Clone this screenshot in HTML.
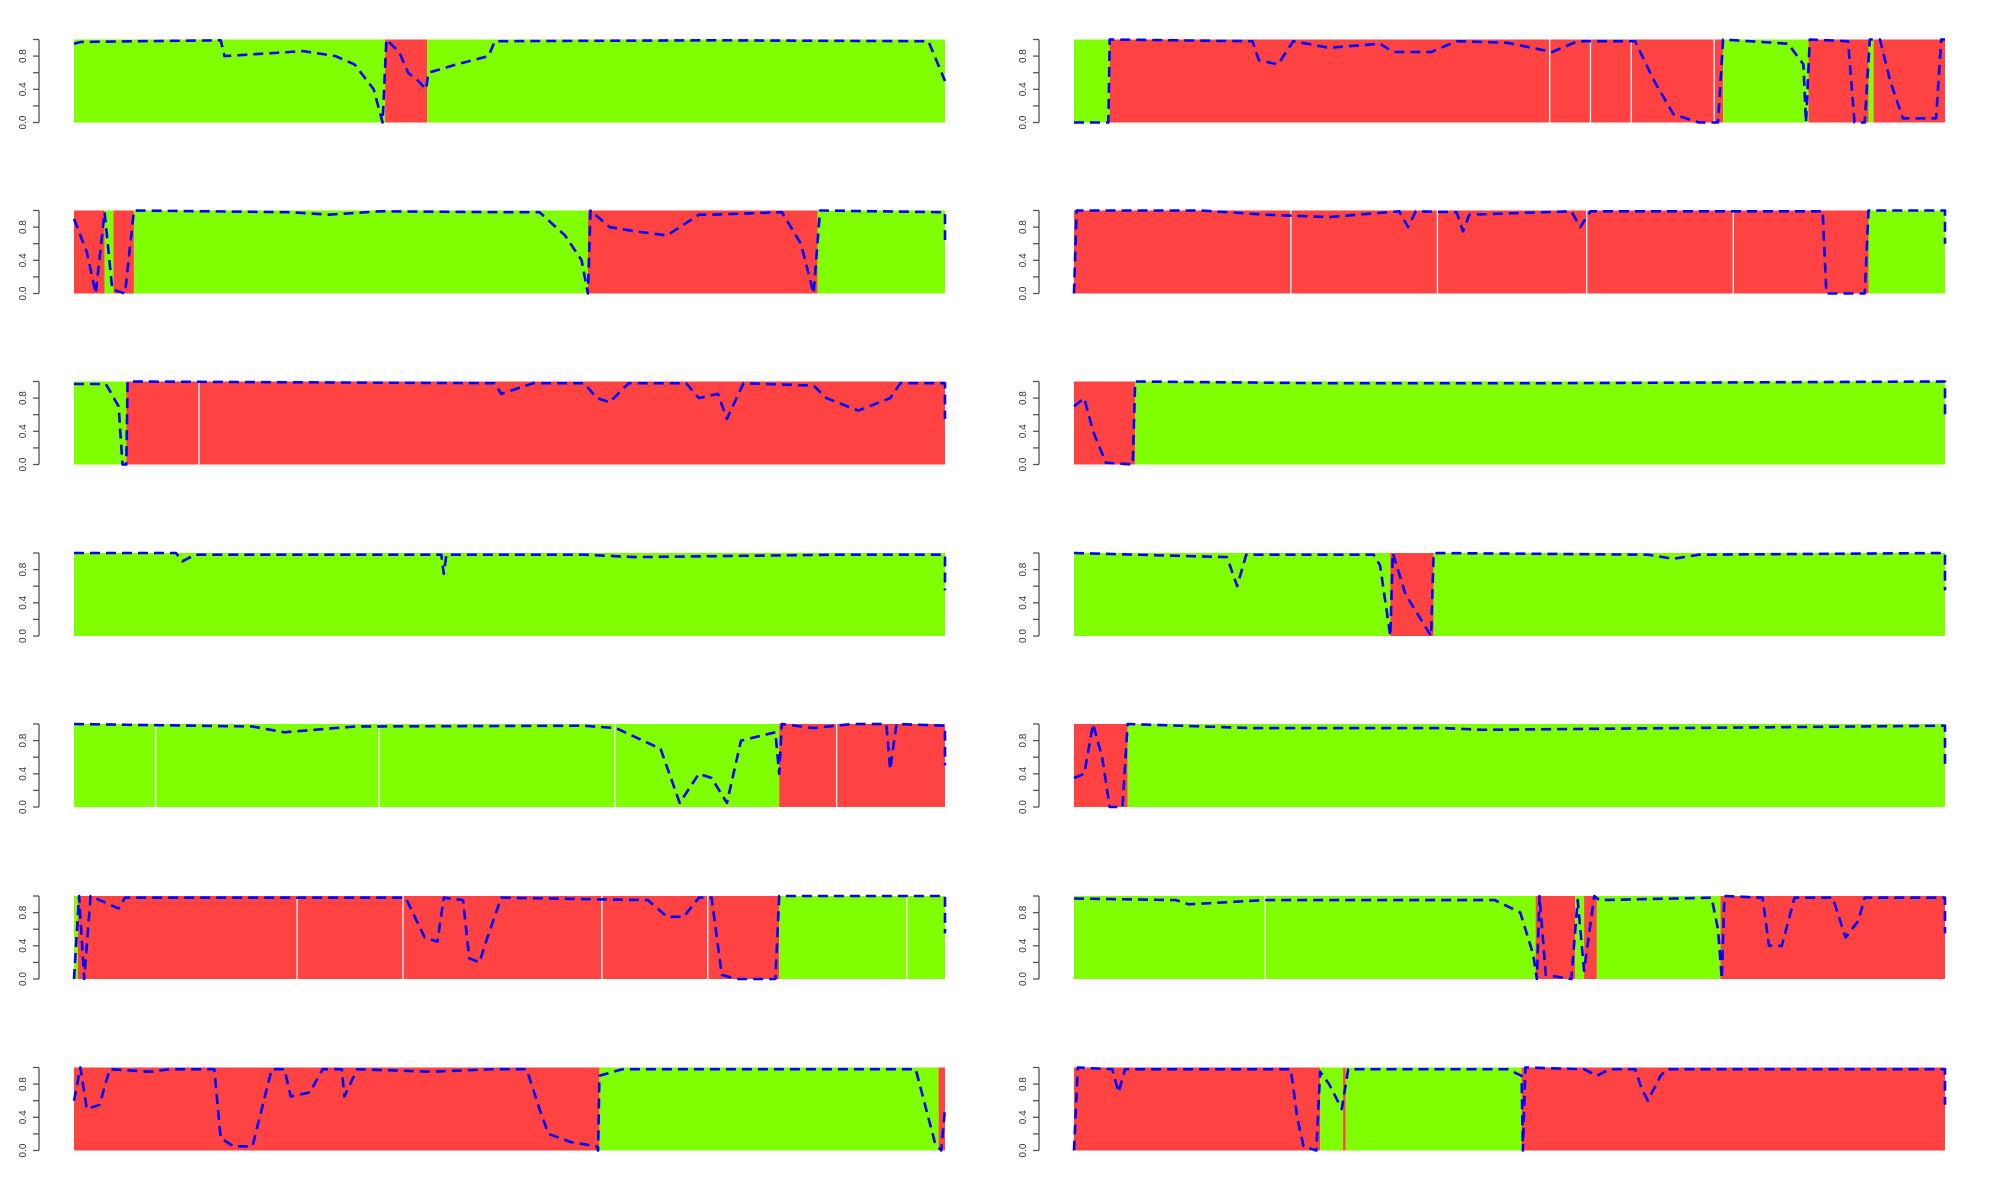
<!DOCTYPE html>
<html><head><meta charset="utf-8"><style>
html,body{margin:0;padding:0;background:#fff;}
svg{display:block;font-family:"Liberation Sans",sans-serif;}
</style></head><body>
<svg id="chart" width="2000" height="1200" viewBox="0 0 2000 1200"></svg>
<script>
// Data (x in units of 0..683 along each panel, y proportion 0..1)
const panelSegments = [
 [[0,244,'g'],[244,277,'r'],[277,683,'g']],
 [[0,28,'g'],[28,509,'r'],[509,576,'g'],[576,623,'r'],[623,627,'g'],[627,683,'r']],
 [[0,24,'r'],[24,31,'g'],[31,47,'r'],[47,403,'g'],[403,583,'r'],[583,683,'g']],
 [[0,623,'r'],[623,683,'g']],
 [[0,41,'g'],[41,683,'r']],
 [[0,48,'r'],[48,683,'g']],
 [[0,683,'g']],
 [[0,248,'g'],[248,282,'r'],[282,683,'g']],
 [[0,553,'g'],[553,683,'r']],
 [[0,42,'r'],[42,683,'g']],
 [[0,3,'g'],[3,553,'r'],[553,683,'g']],
 [[0,362,'g'],[362,393,'r'],[393,400,'g'],[400,410,'r'],[410,507,'g'],[507,683,'r']],
 [[0,412,'r'],[412,678,'g'],[678,683,'r']],
 [[0,193,'r'],[193,211,'g'],[211,213,'r'],[213,351,'g'],[351,683,'r']]
];
const panelSeparators = [
 [], [373,405,437,502], [], [170,285,402,517], [98], [], [], [], [64,239,424,598], [], [175,258,414,497,653], [150], [], []
];
const panelLines = [
 [[0,.95],[5,.97],[50,.98],[115,.99],[118,.8],[180,.86],[205,.8],[220,.7],[235,.4],[242,0],[245,1],[255,.85],[262,.6],[270,.5],[276,.4],[278,.6],[300,.7],[325,.8],[330,.98],[500,.99],[670,.98],[683,.5]],
 [[0,0],[27,0],[28,1],[140,.98],[145,.75],[160,.7],[172,.98],[200,.9],[240,.95],[250,.85],[280,.85],[300,.98],[340,.96],[375,.85],[395,.98],[440,.98],[455,.5],[470,.1],[490,0],[505,0],[509,1],[560,.95],[572,.7],[574,0],[577,1],[607,.98],[612,0],[620,0],[624,1],[632,1],[640,.5],[650,.05],[676,.05],[680,1],[683,1]],
 [[0,.9],[10,.5],[17,0],[24,.98],[30,.05],[40,0],[47,1],[170,.98],[200,.95],[240,.99],[340,.98],[365,.98],[385,.7],[398,.4],[403,0],[405,1],[420,.8],[440,.75],[465,.7],[490,.95],[500,.95],[555,.98],[570,.6],[580,0],[585,1],[683,.98],[683,.6]],
 [[0,0],[2,1],[100,1],[150,.95],[200,.92],[255,.99],[262,.8],[268,.99],[300,.98],[305,.75],[310,.95],[390,.99],[397,.8],[405,.99],[470,.99],[580,.99],[585,.99],[587,1],[590,0],[620,0],[623,1],[683,1],[683,.6]],
 [[0,.97],[25,.97],[35,.7],[38,0],[41,0],[42,1],[330,.98],[335,.85],[360,.98],[400,.98],[410,.8],[420,.75],[435,.98],[480,.98],[490,.8],[505,.85],[512,.55],[525,.98],[580,.95],[590,.8],[615,.65],[640,.8],[648,.98],[683,.98],[683,.55]],
 [[0,.7],[8,.8],[15,.4],[25,.02],[46,0],[48,1],[200,.98],[370,.98],[683,1],[683,.55]],
 [[0,1],[80,1],[85,.9],[95,.98],[288,.98],[290,.75],[292,.98],[400,.98],[440,.95],[600,.98],[683,.98],[683,.55]],
 [[0,1],[120,.95],[128,.6],[135,.98],[235,.98],[240,.85],[248,0],[250,1],[260,.5],[280,0],[282,1],[450,.98],[470,.93],[490,.98],[683,1],[683,.55]],
 [[0,1],[140,.97],[165,.9],[220,.97],[400,.98],[425,.95],[460,.7],[475,.05],[490,.4],[500,.35],[512,.05],[523,.8],[550,.9],[553,.4],[555,1],[580,.95],[610,1],[637,1],[640,.45],[645,1],[683,.98],[683,.5]],
 [[0,.35],[8,.4],[15,1],[22,.6],[28,0],[38,0],[42,1],[140,.95],[290,.95],[320,.93],[683,.98],[683,.5]],
 [[0,0],[4,1],[8,0],[13,1],[35,.85],[40,.98],[260,.98],[275,.5],[285,.45],[290,.98],[305,.95],[310,.25],[318,.2],[322,.4],[335,.98],[450,.95],[465,.75],[478,.75],[490,.98],[500,.98],[508,.05],[520,0],[550,0],[553,1],[683,1],[683,.55]],
 [[0,.97],[80,.95],[90,.9],[150,.95],[330,.95],[350,.8],[360,.3],[363,0],[365,1],[370,.05],[390,0],[395,.95],[400,.1],[408,1],[412,.95],[500,.98],[505,.6],[508,0],[510,1],[540,.98],[545,.4],[555,.4],[565,.98],[595,.98],[605,.5],[615,.7],[620,.98],[683,.98],[683,.55]],
 [[0,.6],[5,1],[10,.5],[20,.55],[28,.98],[60,.95],[75,.98],[110,.98],[115,.15],[125,.05],[140,.05],[155,.98],[165,.98],[170,.65],[185,.7],[195,.98],[210,.98],[212,.65],[222,.98],[280,.95],[330,.98],[355,.98],[365,.5],[372,.2],[390,.1],[410,.05],[411,0],[412,.9],[430,.98],[660,.98],[675,.1],[680,0],[683,.5]],
 [[0,0],[3,1],[30,.98],[35,.7],[40,.98],[120,.98],[170,.98],[175,.4],[180,.05],[190,0],[193,.95],[200,.8],[210,.5],[215,.98],[340,.98],[351,.9],[352,0],[354,1],[400,.98],[410,.9],[420,.98],[440,.98],[445,.75],[450,.6],[460,.9],[465,.98],[683,.98],[683,.55]]
];
const tickValues = [0,0.2,0.4,0.6,0.8,1.0];
const tickLabels = ['0.0','','0.4','','0.8',''];

const NS='http://www.w3.org/2000/svg';
const svg=document.getElementById('chart');
const colLeft=[74,1074], PW=871, PH=83;
const rowTop=[39.5,210.5,381.5,553,724,896,1067.5];
const COL={g:'#7fff00',r:'#ff4242'};
function mk(tag,attrs,parent){const e=document.createElementNS(NS,tag);for(const k in attrs)e.setAttribute(k,attrs[k]);(parent||svg).appendChild(e);return e;}

panelSegments.forEach((segs,i)=>{
  const row=Math.floor(i/2), col=i%2;
  const x0=colLeft[col], y0=rowTop[row];
  const xs=v=>x0+v/683*PW;
  const ys=v=>y0+PH-v*PH;
  const g=mk('g',{});
  
  
  segs.forEach(s=>{
    const r=mk('rect',{x:xs(s[0]),y:y0,width:xs(s[1])-xs(s[0]),height:PH,fill:COL[s[2]]},g);
    
    
  });
  panelSeparators[i].forEach(v=>{
    const l=mk('line',{x1:xs(v),x2:xs(v),y1:y0,y2:y0+PH,stroke:'#fff','stroke-width':1.3},g);
    
    
  });
  const pts=panelLines[i].map(p=>xs(p[0]).toFixed(1)+','+ys(p[1]).toFixed(1)).join(' ');
  const pl=mk('polyline',{points:pts,fill:'none',stroke:'#0000ff','stroke-width':2.6,'stroke-dasharray':'10 6','stroke-linejoin':'round'},g);
  
  
  // axis
  const ax=x0-35;
  const ag=mk('g',{},g);
  
  
  mk('line',{x1:ax,x2:ax,y1:ys(0),y2:ys(1),stroke:'#555','stroke-width':1.3},ag);
  tickValues.forEach((t,k)=>{
    mk('line',{x1:ax,x2:ax-6,y1:ys(t),y2:ys(t),stroke:'#555','stroke-width':1.3},ag);
    if(tickLabels[k]){
      const tx=mk('text',{x:ax-13,y:ys(t),'font-size':10,fill:'#333','text-anchor':'middle',transform:'rotate(-90 '+(ax-13)+' '+ys(t)+')'},ag);
      tx.textContent=tickLabels[k];
      
      
    }
  });
});
</script>
</body></html>
